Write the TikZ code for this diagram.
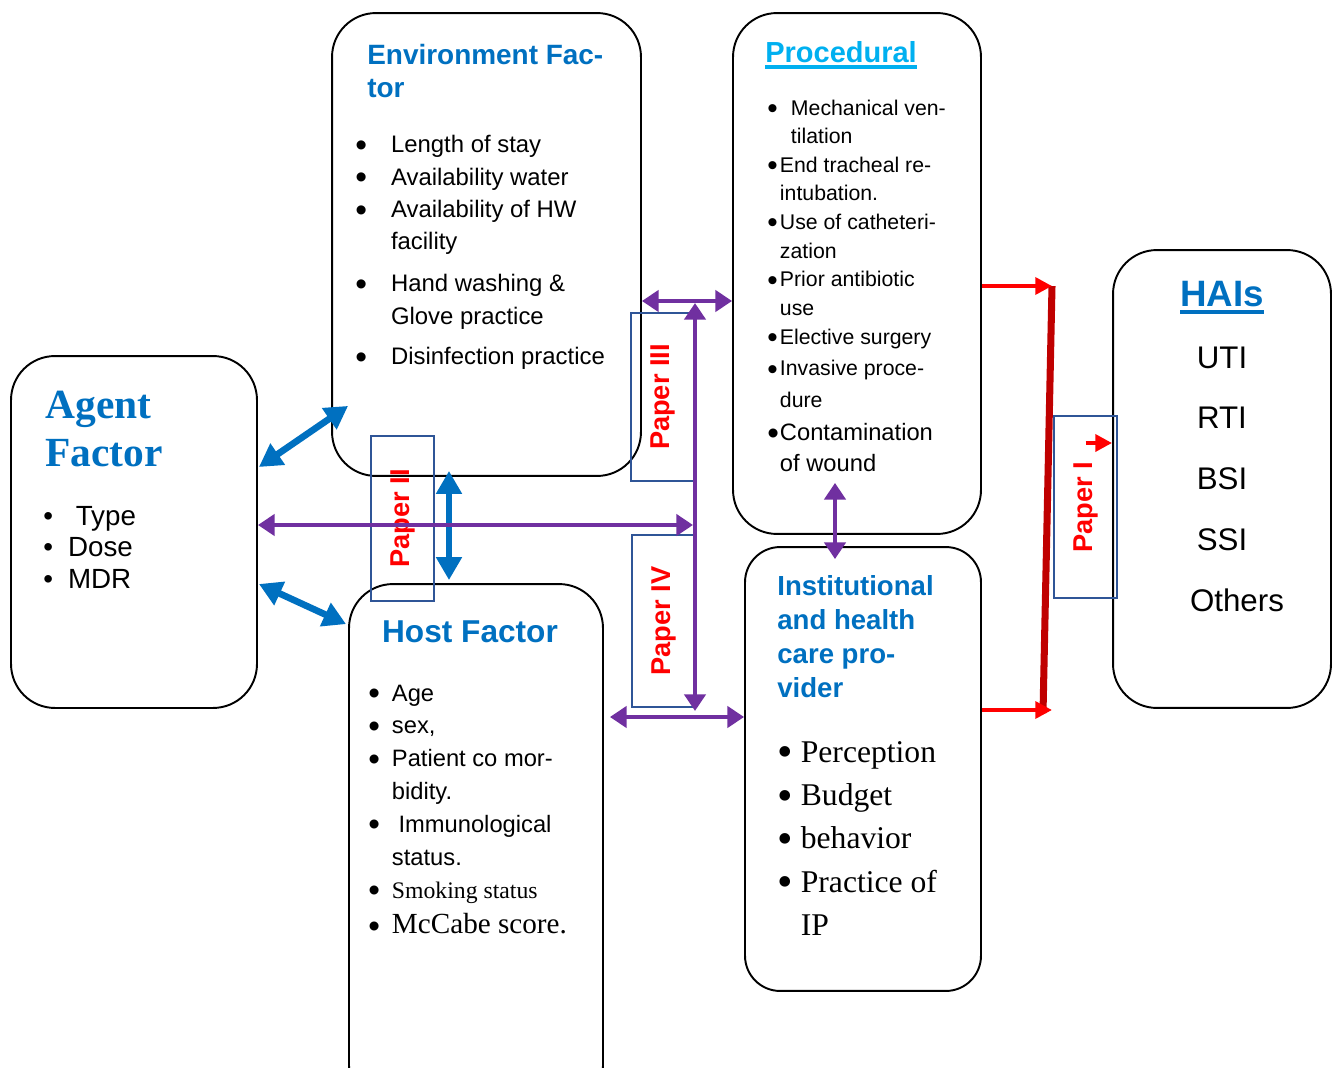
\documentclass[tikz,border=0pt]{standalone}
\usepackage{fontspec}
\setmainfont{Liberation Serif}
\setsansfont{Liberation Sans}
\usetikzlibrary{arrows.meta, calc, positioning}

\definecolor{hblue}{HTML}{0070C0}
\definecolor{lblue}{HTML}{00B0F0}
\definecolor{vio}{HTML}{7030A0}
\definecolor{dred}{HTML}{C00000}
\definecolor{edge}{HTML}{2F5597}
\newcommand{\fsz}[2]{\fontsize{#1}{#2}\selectfont}
\newcommand{\thickul}[2]{\leavevmode\setbox0\hbox{#2}\rlap{\rule[#1]{\wd0}{2.3pt}}\box0}
\newcommand{\bul}{\smash{\raisebox{-0.15em}{\scalebox{1.4}{\textbullet}}}}

\tikzset{
  factor/.style={draw, rounded corners=25pt, line width=1.1pt, inner sep=0pt},
  paper/.style={draw=edge, line width=1.1pt, rotate=90, text=red, inner sep=0pt,
                font=\sffamily\bfseries\fsz{15.5}{18}},
  txt/.style={anchor=base west, inner sep=0pt},
  bluearr/.style={draw=hblue, line width=3.8pt, >={Triangle[length=13pt,width=14pt]}, <->},
  vioarr/.style={draw=vio, line width=2.6pt, >={Triangle[length=9.5pt,width=12pt]}, <->},
  redarr/.style={draw=red, line width=2.4pt, >={Triangle[length=9.5pt,width=9.5pt]}, ->}
}

\begin{document}
\begin{tikzpicture}[x=0.02cm, y=-0.02cm]
    \useasboundingbox (0,0) rectangle (1339,1068);
    \clip (0,0) rectangle (1339,1068);

    \node[factor, minimum width=4.92cm, minimum height=7.04cm] (agent) at (134,532) {};
    \node[factor, minimum width=6.18cm, minimum height=9.26cm] (env) at (486.5,244.5) {};
    \node[factor, minimum width=4.96cm, minimum height=10.42cm] (proc) at (857,273.5) {};
    \node[factor, minimum width=4.36cm, minimum height=9.16cm] (hai) at (1222,479) {};
    \node[factor, minimum width=5.08cm, minimum height=10.52cm] (host) at (476,847) {};
    \node[factor, rounded corners=20pt, minimum width=4.72cm, minimum height=8.88cm] (inst) at (863,769) {};

    \node[txt, text=hblue, font=\bfseries\fsz{23.6}{27.8}] (agenttitle) at (45,418)
        {\begin{tabular}[t]{@{}l@{}}Agent\\Factor\end{tabular}};
    \node[txt, font=\sffamily\fsz{15.8}{18.1}] (agentlist) at (43,525)
        {\begin{tabular}[t]{@{}l@{\hspace{0.3cm}}l@{}}
        \textbullet & \ Type\\
        \textbullet & Dose\\
        \textbullet & MDR
        \end{tabular}};

    \node[txt, text=hblue, font=\sffamily\bfseries\fsz{15.9}{18.7}] (envtitle) at (367,65)
        {\begin{tabular}[t]{@{}l@{}}Environment Fac-\\tor\end{tabular}};
    \node[txt, font=\sffamily\fsz{13.6}{18.4}] (envlist) at (355,153)
        {\begin{tabular}[t]{@{}l@{\hspace{0.48cm}}l@{}}
        \bul & Length of stay\\
        \bul & Availability water\\
        \bul & Availability of HW\\
             & facility\\[5.5pt]
        \bul & Hand washing \&\\
             & Glove practice\\[4.5pt]
        \bul & Disinfection practice
        \end{tabular}};

    \node[txt, text=lblue, font=\sffamily\bfseries\fsz{16.5}{19}] (proctitle) at (765,63)
        {\thickul{-3.4pt}{Procedural}};
    \node[txt, font=\sffamily\fsz{12.1}{16.3}] (proclist) at (767,115)
        {\begin{tabular}[t]{@{}l@{\hspace{0.02cm}}l@{}}
        \bul & \hspace{0.22cm}Mechanical ven-\\
             & \hspace{0.22cm}tilation\\
        \bul & End tracheal re-\\
             & intubation.\\
        \bul & Use of catheteri-\\
             & zation\\
        \bul & Prior antibiotic\\
             & use\\
        \bul & Elective surgery\\[1.8pt]
        \bul & Invasive proce-\\[1.8pt]
             & dure\\[2.4pt]
        {\fsz{13.5}{16.3}\bul} & {\fsz{13.5}{16.3}Contamination}\\[1.3pt]
             & {\fsz{13.5}{16.3}of wound}
        \end{tabular}};

    \node[anchor=base, inner sep=0pt, text=hblue, font=\sffamily\bfseries\fsz{20.9}{24}] (haititle) at (1222,306)
        {\thickul{-4.5pt}{HAIs}};
    \node[anchor=base, inner sep=0pt, font=\sffamily\fsz{17.8}{34.6}] (hailist) at (1222,368)
        {\begin{tabular}[t]{@{}c@{}}
        UTI\\ RTI\\ BSI\\ SSI\\ \hspace{0.6cm}Others
        \end{tabular}};

    \node[txt, text=hblue, font=\sffamily\bfseries\fsz{15.7}{19.5}] (insttitle) at (777,595)
        {\begin{tabular}[t]{@{}l@{}}Institutional\\and health\\care pro-\\vider\end{tabular}};
    \node[txt, font=\fsz{18}{24.7}] (instlist) at (777,762)
        {\begin{tabular}[t]{@{}l@{\hspace{0.16cm}}l@{}}
        \bul & Perception\\
        \bul & Budget\\
        \bul & behavior\\
        \bul & Practice of\\
             & IP
        \end{tabular}};

    \node[anchor=base, inner sep=0pt, text=hblue, font=\sffamily\bfseries\fsz{18}{21}] (hosttitle) at (470,642)
        {Host Factor};
    \node[txt, font=\sffamily\fsz{13.5}{18.7}] (hostlist) at (368,701)
        {\begin{tabular}[t]{@{}l@{\hspace{0.24cm}}l@{}}
        \bul & Age\\
        \bul & sex,\\
        \bul & Patient co mor-\\
             & bidity.\\
        \bul & \ Immunological\\
             & status.\\
        \bul & {\rmfamily Smoking status}\\[1.5pt]
        \bul & {\rmfamily\fsz{16.6}{18.7}McCabe score.}
        \end{tabular}};

    \node[paper, minimum width=3.3cm, minimum height=1.26cm] (p2) at (402.5,518.5) {Paper II};
    \node[paper, minimum width=3.36cm, minimum height=1.26cm] (p3) at (662.5,397) {Paper III};
    \node[paper, minimum width=3.44cm, minimum height=1.26cm] (p4) at (663.5,621) {Paper IV};
    \node[paper, minimum width=3.64cm, minimum height=1.26cm] (p1) at (1085.5,507) {Paper I};

    \coordinate (xv) at (449,0);
    \draw[bluearr] ($(agent.east)+(1,-65)$) -- ($(env.south west)+(17,-71)$);
    \draw[bluearr] ($(agent.east)+(1,52)$) -- ($(host.north west)+(-2,41)$);
    \draw[bluearr] ($(env.south -| xv)+(0,-6)$) -- ($(host.north -| xv)+(0,-3)$);

    \coordinate (jtop) at (695,303);
    \coordinate (jbot) at (695,711);
    \coordinate (jmid) at (693,525);
    \coordinate (htop) at (0,301);
    \coordinate (hbot) at (0,717);
    \draw[vioarr] (jbot) -- (jtop);
    \draw[vioarr] (agent.east |- jmid) -- (jmid);
    \draw[vioarr] (env.east |- htop) -- (proc.west |- htop);
    \draw[vioarr] ($(host.east |- hbot)+(6,0)$) -- (inst.west |- hbot);
    \draw[vioarr] ($(proc.south)+(-22,-52)$) -- ($(inst.north)+(-28,13)$);

    \coordinate (rtop) at (1052,286);
    \coordinate (rbot) at (1043,713);
    \coordinate (tipb) at (1052,710);
    \coordinate (rmid) at (1085,443);
    \draw[dred, line width=4pt] (rtop) -- (rbot);
    \draw[redarr] (proc.east |- rtop) -- (rtop);
    \draw[redarr] (inst.east |- tipb) -- (tipb);
    \draw[redarr] (p1.west |- rmid) -- (hai.west |- rmid);
\end{tikzpicture}
\end{document}
